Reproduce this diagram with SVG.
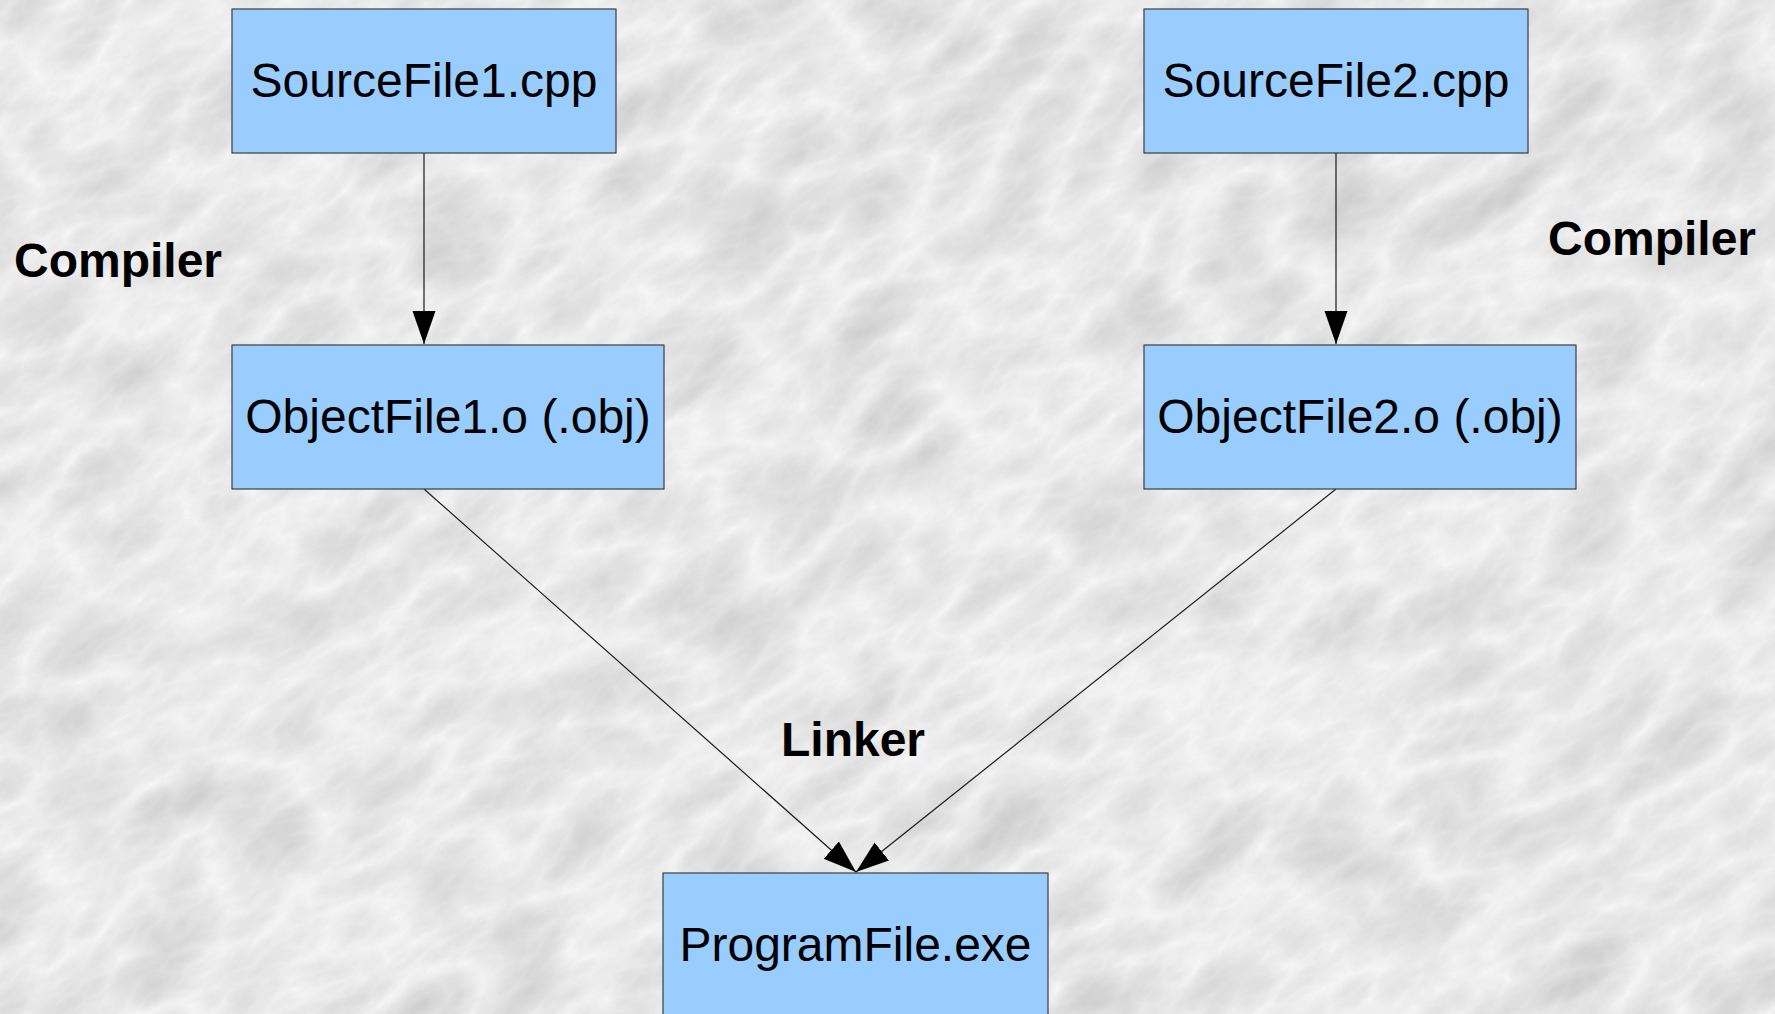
<svg xmlns="http://www.w3.org/2000/svg" width="1775" height="1014" viewBox="0 0 1775 1014">
  <style>
    .box { fill: #99ccff; stroke: #3c3c3c; stroke-width: 1.2; }
    .name { font-family: "Liberation Sans", Arial, sans-serif; font-size: 48px; fill: #000; text-anchor: middle; }
    .stage { font-family: "Liberation Sans", Arial, sans-serif; font-size: 48px; font-weight: bold; fill: #000; }
    .link { stroke: #1a1a1a; stroke-width: 1.2; fill: none; marker-end: url(#head); }
  </style>
  <defs>
    <marker id="head" markerUnits="userSpaceOnUse" markerWidth="34" markerHeight="24" refX="33" refY="11.5" orient="auto" viewBox="0 0 34 24">
      <path d="M0,0 L33,11.5 L0,23 Z" fill="#000"/>
    </marker>
    <!-- marble backdrop: inverted turbulence gives pale veins on light grey -->
    <filter id="marble" x="0" y="0" width="100%" height="100%" color-interpolation-filters="sRGB">
      <feTurbulence type="turbulence" baseFrequency="0.008 0.016" numOctaves="5" seed="7" result="veins"/>
      <feColorMatrix in="veins" type="matrix" values="-0.2 0 0 0 0.98  -0.2 0 0 0 0.98  -0.2 0 0 0 0.98  0 0 0 0 1" result="stone"/>
      <feTurbulence type="fractalNoise" baseFrequency="0.7" numOctaves="2" seed="3" result="grain"/>
      <feColorMatrix in="grain" type="matrix" values="0 0 0 0 0.6  0 0 0 0 0.6  0 0 0 0 0.6  0.07 0 0 0 0" result="grainA"/>
      <feComposite in="grainA" in2="stone" operator="over"/>
    </filter>
  </defs>

  <rect width="1775" height="1014" fill="#e8e8e8"/>
  <g transform="rotate(-35 887 507)">
    <rect x="-600" y="-700" width="3000" height="2400" filter="url(#marble)"/>
  </g>

  <g id="connectors">
    <line class="link" x1="424" y1="153" x2="424" y2="344"/>
    <line class="link" x1="1336" y1="153" x2="1336" y2="344"/>
    <line class="link" x1="424" y1="489" x2="856" y2="872"/>
    <line class="link" x1="1336" y1="489" x2="856" y2="872"/>
  </g>

  <g id="source1">
    <rect class="box" x="232" y="9" width="384" height="144"/>
    <text class="name" x="424" y="97">SourceFile1.cpp</text>
  </g>
  <g id="source2">
    <rect class="box" x="1144" y="9" width="384" height="144"/>
    <text class="name" x="1336" y="97">SourceFile2.cpp</text>
  </g>
  <g id="object1">
    <rect class="box" x="232" y="345" width="432" height="144"/>
    <text class="name" x="448" y="433">ObjectFile1.o (.obj)</text>
  </g>
  <g id="object2">
    <rect class="box" x="1144" y="345" width="432" height="144"/>
    <text class="name" x="1360" y="433">ObjectFile2.o (.obj)</text>
  </g>
  <g id="program">
    <rect class="box" x="663" y="873" width="385" height="160"/>
    <text class="name" x="855.5" y="961">ProgramFile.exe</text>
  </g>

  <g id="labels">
    <text class="stage" x="14" y="277">Compiler</text>
    <text class="stage" x="1548" y="255">Compiler</text>
    <text class="stage" x="781" y="756">Linker</text>
  </g>
</svg>
